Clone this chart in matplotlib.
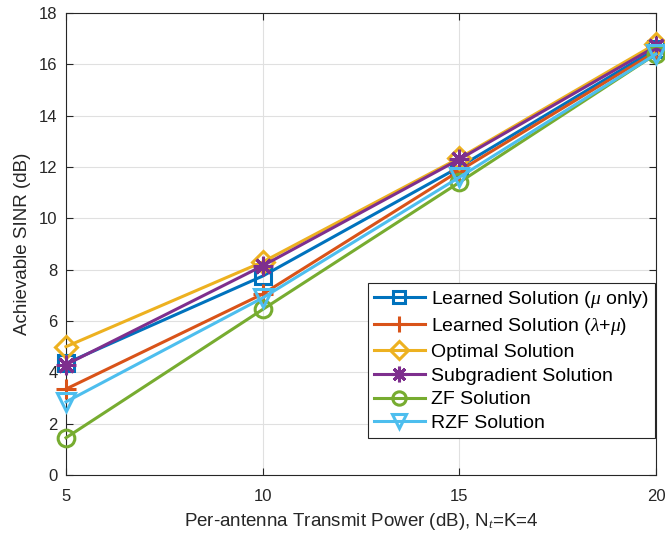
import numpy as np
import matplotlib.pyplot as plt

plt.rcParams['font.family'] = ['Liberation Sans', 'DejaVu Sans']
plt.rcParams['mathtext.fontset'] = 'custom'
plt.rcParams['mathtext.rm'] = 'Liberation Sans'
plt.rcParams['mathtext.it'] = 'Liberation Serif:italic'

power_db = [5, 10, 15, 20]

learned_mu = [4.35, 7.75, 12.0, 16.6]
learned_lam_mu = [3.35, 7.05, 11.85, 16.5]
optimal = [5.0, 8.3, 12.35, 16.8]
subgradient = [4.3, 8.15, 12.3, 16.7]
zf = [1.45, 6.45, 11.4, 16.4]
rzf = [2.85, 6.9, 11.6, 16.4]

# (values, colour, marker, marker size, label)
series = [
    (learned_mu, '#0072BD', 's', 11, r'Learned Solution ($\mu$ only)'),
    (learned_lam_mu, '#D95319', '+', 15, r'Learned Solution ($\lambda$+$\mu$)'),
    (optimal, '#EDB120', 'D', 11, 'Optimal Solution'),
    (subgradient, '#7E2F8E', (8, 2, 0), 14, 'Subgradient Solution'),
    (zf, '#77AC30', 'o', 12, 'ZF Solution'),
    (rzf, '#4DBEEE', 'v', 13, 'RZF Solution'),
]

fig = plt.figure(figsize=(6.65, 5.38), dpi=100)
ax = fig.add_axes([66 / 665, 1 - 475 / 538, 590 / 665, 462 / 538])

for vals, col, mk, ms, lab in series:
    ax.plot(power_db, vals, color=col, lw=2.2, marker=mk, ms=ms,
            mfc='none', mec=col, mew=2.2, label=lab, clip_on=False, zorder=3)

ax.set_xlim(5, 20)
ax.set_ylim(0, 18)
ax.set_xticks([5, 10, 15, 20])
ax.set_yticks(np.arange(0, 19, 2))
ax.grid(True, color='#e0e0e0', lw=0.8)
ax.set_axisbelow(True)
ax.tick_params(direction='in', length=5, labelsize=12, colors='#262626',
               top=True, right=True)
ax.tick_params(axis='x', pad=10)
ax.tick_params(axis='y', pad=6)
for s in ax.spines.values():
    s.set_color('#262626')
    s.set_linewidth(0.8)

ax.set_xlabel('Per-antenna Transmit Power (dB), N$_t$=K=4', fontsize=13.5,
              color='#262626', labelpad=5)
ax.set_ylabel('Achievable SINR (dB)', fontsize=13.5, color='#262626', labelpad=6)

leg = ax.legend(loc='lower right', fontsize=14, handlelength=2.6,
                handletextpad=0.35, labelspacing=0.32, borderpad=0.3,
                borderaxespad=0, fancybox=False, framealpha=1,
                edgecolor='#262626', bbox_to_anchor=(0.998, 0.08),
                markerscale=0.8)
leg.get_frame().set_linewidth(0.8)
leg.set_zorder(5)

fig.savefig('out.png', dpi=100)
